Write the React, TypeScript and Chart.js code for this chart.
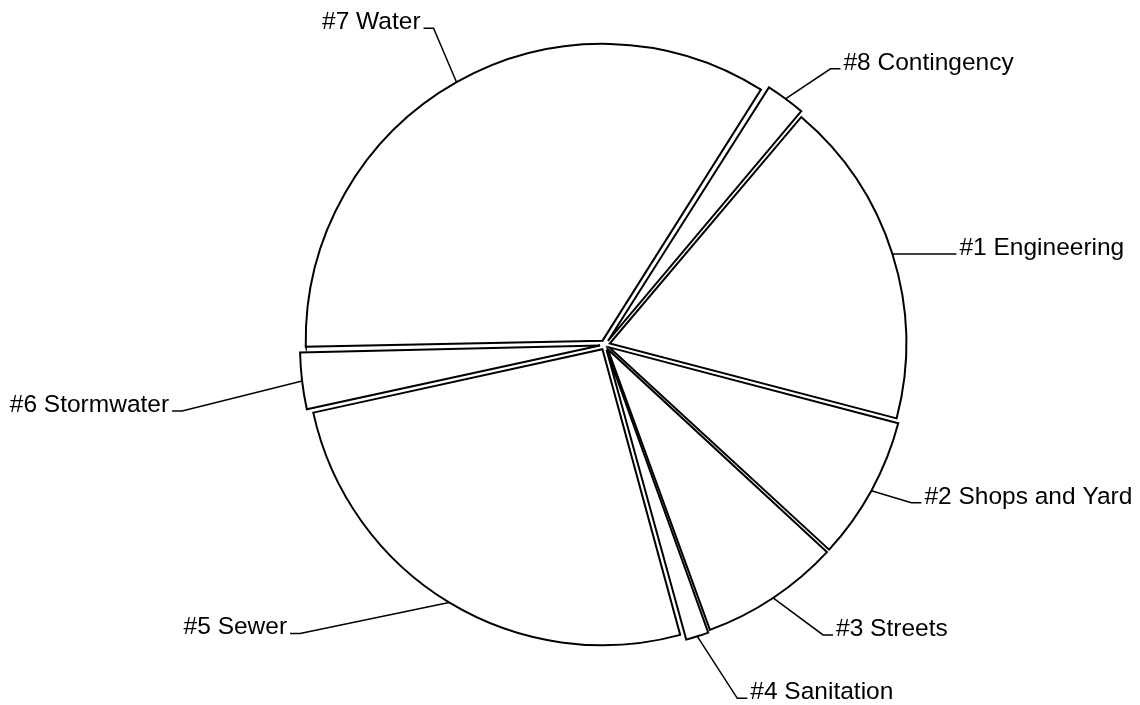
import React, { useEffect, useRef } from "react";
import { Chart, registerables } from "chart.js";

Chart.register(...registerables);

// Categories (clockwise from the top-right)
const categories = [
  "#1 Engineering",
  "#2 Shops and Yard",
  "#3 Streets",
  "#4 Sanitation",
  "#5 Sewer",
  "#6 Stormwater",
  "#7 Water",
  "#8 Contingency",
];

// Share of the total (percent)
const shares = [17.9, 7.8, 7.6, 1.3, 25.8, 3.1, 34.3, 2.2];

// Label elbow offsets relative to the leader's start on each slice's arc
const leaderOffsets: [number, number][] = [
  [54, 0],
  [40, 12],
  [50, 37],
  [40, 62],
  [-149, 31],
  [-120, 30],
  [-23, -54],
  [45, -30],
];

const FONT = '24.5px "Liberation Sans", Arial, sans-serif';

const leaderPlugin = {
  id: "leaderLabels",
  afterDatasetsDraw(chart: any) {
    const ctx: CanvasRenderingContext2D = chart.ctx;
    const meta = chart.getDatasetMeta(0);
    ctx.save();
    ctx.strokeStyle = "#000";
    ctx.fillStyle = "#000";
    ctx.lineWidth = 1.5;
    ctx.font = FONT;
    ctx.textBaseline = "alphabetic";
    meta.data.forEach((arc: any, i: number) => {
      const p = arc.getProps(
        ["x", "y", "startAngle", "endAngle", "outerRadius", "circumference"],
        true
      );
      const off = (arc.options.offset || 0) / 4;
      const mid = (p.startAngle + p.endAngle) / 2;
      const fix = 1 - Math.sin(Math.min(Math.PI, p.circumference));
      const r = p.outerRadius + off * fix;
      const cx = p.x + Math.cos(mid) * off;
      const cy = p.y + Math.sin(mid) * off;
      const sx = cx + Math.cos(mid) * r;
      const sy = cy + Math.sin(mid) * r;
      const [dx, dy] = leaderOffsets[i];
      const ex = sx + dx;
      const ey = sy + dy;
      const side = dx >= 0 ? 1 : -1;
      const tx = ex + side * 10;
      ctx.beginPath();
      ctx.moveTo(sx, sy);
      ctx.lineTo(ex, ey);
      ctx.lineTo(tx, ey);
      ctx.stroke();
      ctx.textAlign = side > 0 ? "left" : "right";
      ctx.fillText(categories[i], tx + side * 3, ey + 1);
    });
    ctx.restore();
  },
};

export default function App() {
  const canvasRef = useRef<HTMLCanvasElement | null>(null);

  useEffect(() => {
    if (!canvasRef.current) return;
    const chart = new Chart(canvasRef.current, {
      type: "pie",
      data: {
        labels: categories,
        datasets: [
          {
            data: shares,
            backgroundColor: "#ffffff",
            borderColor: "#000000",
            borderWidth: 2,
            offset: 20,
            borderJoinStyle: "miter",
          } as any,
        ],
      },
      options: {
        responsive: false,
        animation: false,
        devicePixelRatio: 1,
        rotation: 40.2,
        radius: 296,
        events: [],
        layout: { padding: { left: 70, right: 0, top: 0, bottom: 15 } },
        plugins: {
          legend: { display: false },
          tooltip: { enabled: false },
        },
      } as any,
      plugins: [leaderPlugin],
    });
    return () => chart.destroy();
  }, []);

  return (
    <div
      style={{
        position: "absolute",
        left: 0,
        top: 0,
        width: 1140,
        height: 705,
        background: "#ffffff",
      }}
    >
      <canvas ref={canvasRef} width={1140} height={705} />
    </div>
  );
}
